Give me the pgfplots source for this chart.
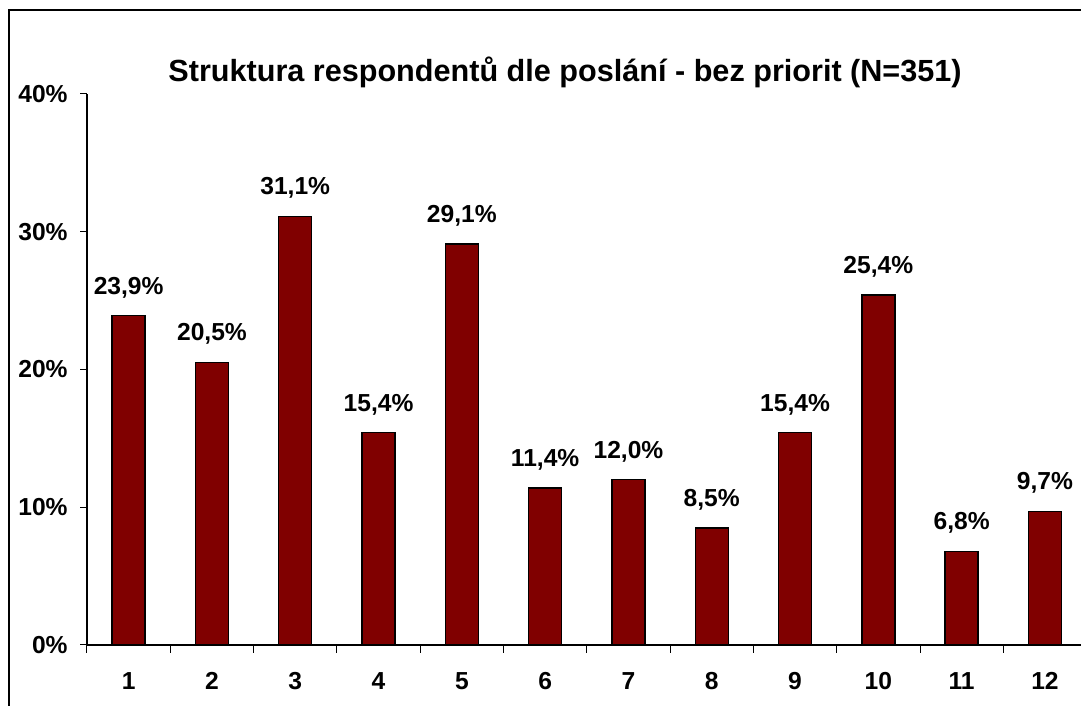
\documentclass[border=0pt]{standalone}
\usepackage{fontspec}
\setmainfont{Liberation Sans}
\usepackage{pgfplots}
\pgfplotsset{compat=1.18}
\definecolor{barred}{HTML}{800000}
\begin{document}
\begin{tikzpicture}
\useasboundingbox (0,0) rectangle (540.5pt,353pt);
\draw[line width=0.6pt] (4.5pt,-5pt) -- (4.5pt,348pt) -- (545pt,348pt);
\node[font=\bfseries\fontsize{15.3}{17}\selectfont] at (282.5pt,317pt) {Struktura respondentů dle poslání - bez priorit (N=351)};
\begin{axis}[
  at={(43.5pt,30.5pt)}, anchor=south west,
  x=41.65pt, y=6.89pt,
  xmin=0, xmax=11.93, ymin=0, ymax=40,
  scale only axis,
  clip=false,
  axis x line*=bottom, axis y line*=left,
  axis line style={-, line width=0.6pt, black},
  /pgf/number format/assume math mode=true,
  ybar, bar width=16.5pt,
  xtick={0.5,1.5,...,11.5},
  xticklabels={1,2,3,4,5,6,7,8,9,10,11,12},
  minor xtick={0,1,...,11},
  major x tick style={draw=none},
  minor x tick style={black, line width=0.5pt},
  minor tick length=4pt,
  ytick={0,10,20,30,40},
  yticklabels={0\%,10\%,20\%,30\%,40\%},
  major tick length=3.5pt,
  tick align=outside,
  ytick style={black, line width=0.5pt},
  ticklabel style={font=\bfseries\fontsize{12.3}{14}\selectfont},
  yticklabel style={inner sep=0pt, xshift=-6pt},
  xticklabel style={inner sep=0pt, yshift=-10pt},
  nodes near coords={\pgfmathprintnumber[fixed,fixed zerofill,precision=1,use comma]{\pgfplotspointmeta}\%},
  every node near coord/.append style={font=\bfseries\fontsize{12.3}{14}\selectfont, inner sep=0pt, anchor=south, yshift=8.5pt},
]
\addplot[fill=barred, draw=black, line width=0.7pt] coordinates {
(0.5,23.9) (1.5,20.5) (2.5,31.1) (3.5,15.4) (4.5,29.1) (5.5,11.4)
(6.5,12.0) (7.5,8.5) (8.5,15.4) (9.5,25.4) (10.5,6.8) (11.5,9.7)};
\end{axis}
\end{tikzpicture}
\end{document}
